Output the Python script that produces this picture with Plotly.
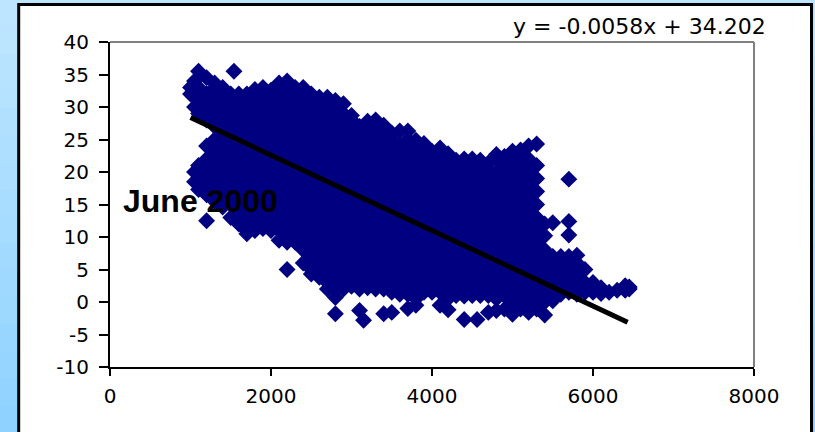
import plotly.graph_objects as go

# Scatter, one row per x position: x value, then the y values seen there
column_x = [
    1000, 1050, 1100, 1200, 1300, 1400, 1500, 1540, 1600, 1700, 1800, 1900,
    2000, 2100, 2200, 2300, 2400, 2500, 2600, 2700, 2800, 2900, 3000, 3100, 3150,
    3200, 3300, 3400, 3500, 3600, 3700, 3800, 3900, 4000, 4100, 4200, 4300, 4400,
    4500, 4560, 4600, 4700, 4800, 4900, 5000, 5100, 5200, 5300, 5400, 5500, 5600,
    5700, 5800, 5900, 6000, 6100, 6200, 6300, 6400, 6450,
]
column_y = [
    [33, 32],
    [34, 32, 30, 20, 18.5],
    [35.5, 33, 31, 29, 21, 19, 17.3],
    [34.5, 32, 30, 28, 24, 22, 20, 18, 16.5, 12.5],
    [33.7, 33, 31, 29, 27, 25, 23, 21, 19, 17, 15.5],
    [33, 32, 30, 28, 26, 24, 22, 20, 18, 16, 14.6],
    [32, 31, 29, 27, 25, 23, 21, 19, 17, 15, 13],
    [35.5],
    [32, 30, 28, 26, 24, 22, 20, 18, 16, 14, 12],
    [32, 31, 29, 27, 25, 23, 21, 19, 17, 15, 13, 11, 10.5],
    [32.7, 32, 30, 28, 26, 24, 22, 20, 18, 16, 14, 12, 11],
    [33, 31, 29, 27, 25, 23, 21, 19, 17, 15, 13, 11.3],
    [32.6, 32, 30, 28, 26, 24, 22, 20, 18, 16, 14, 12, 11],
    [33.7, 33, 31, 29, 27, 25, 23, 21, 19, 17, 15, 13, 11, 9.5],
    [34, 32, 30, 28, 26, 24, 22, 20, 18, 16, 14, 12, 10, 9.2, 5],
    [33, 31, 29, 27, 25, 23, 21, 19, 17, 15, 13, 11, 9.2],
    [33, 32, 30, 28, 26, 24, 22, 20, 18, 16, 14, 12, 10, 8, 6],
    [32, 31, 29, 27, 25, 23, 21, 19, 17, 15, 13, 11, 9, 7, 5, 4.3],
    [31.5, 30, 28, 26, 24, 22, 20, 18, 16, 14, 12, 10, 8, 6, 4, 3.8],
    [31.5, 31, 29, 27, 25, 23, 21, 19, 17, 15, 13, 11, 9, 7, 5, 3, 2],
    [31, 30, 28, 26, 24, 22, 20, 18, 16, 14, 12, 10, 8, 6, 4, 2, 0.7, -1.8],
    [30.5, 29, 27, 25, 23, 21, 19, 17, 15, 13, 11, 9, 7, 5, 3, 2],
    [28.7, 28, 26, 24, 22, 20, 18, 16, 14, 12, 10, 8, 6, 4, 2.4],
    [27, 25, 23, 21, 19, 17, 15, 13, 11, 9, 7, 5, 3, 2, -1.3],
    [-2.8],
    [27.8, 26, 24, 22, 20, 18, 16, 14, 12, 10, 8, 6, 4, 2.2],
    [28, 27, 25, 23, 21, 19, 17, 15, 13, 11, 9, 7, 5, 3, 2],
    [27.2, 26, 24, 22, 20, 18, 16, 14, 12, 10, 8, 6, 4, 2, -1.8],
    [26, 25, 23, 21, 19, 17, 15, 13, 11, 9, 7, 5, 3, 1.5, -1.6],
    [26.3, 24, 22, 20, 18, 16, 14, 12, 10, 8, 6, 4, 2, 1.2],
    [26.3, 25, 23, 21, 19, 17, 15, 13, 11, 9, 7, 5, 3, 1.2, -1],
    [24.9, 24, 22, 20, 18, 16, 14, 12, 10, 8, 6, 4, 2, 0.5, -0.5],
    [24.4, 23, 21, 19, 17, 15, 13, 11, 9, 7, 5, 3, 1.5],
    [23.2, 22, 20, 18, 16, 14, 12, 10, 8, 6, 4, 2, 1.5],
    [23.7, 23, 21, 19, 17, 15, 13, 11, 9, 7, 5, 3, 1.5, -0.5],
    [22.8, 22, 20, 18, 16, 14, 12, 10, 8, 6, 4, 2, 0.5, -1.2],
    [21.8, 21, 19, 17, 15, 13, 11, 9, 7, 5, 3, 1],
    [22, 20, 18, 16, 14, 12, 10, 8, 6, 4, 2, 0.9, -2.7],
    [22, 21, 19, 17, 15, 13, 11, 9, 7, 5, 3, 1],
    [-2.7],
    [21.8, 20, 18, 16, 14, 12, 10, 8, 6, 4, 2, 1],
    [21.4, 20.4, 19, 17, 15, 13, 11, 9, 7, 5, 3, 1, -1.6],
    [22.7, 22, 20, 18, 16, 14, 12, 10, 8, 6, 4, 2, 0.5, -1.3],
    [22.4, 21, 19, 17, 15, 13, 11, 9, 7, 5, 3, 1, -1.1],
    [23.2, 22, 20, 18, 16, 14, 12, 10, 8, 6, 4, 2, 0, -1.9],
    [23.4, 23, 21, 19, 17, 15, 13, 11, 9, 7, 5, 3, 1, -1.1],
    [24, 22, 20, 18, 16, 14, 12, 10, 8, 6, 4, 2, 0, -1.6],
    [24.3, 21, 19, 17, 15, 13, 11, 9, 7, 5, 3, 1, -1.1],
    [12, 10.2, 8, 6, 4, 2, 0, -2],
    [12.2, 7, 5, 3, 1, 0.2],
    [7, 6, 4, 2, 1.2],
    [18.9, 12.4, 10.3, 7, 5, 3, 1.5],
    [7.2, 6, 4, 2, 1.2],
    [5, 3, 1.5],
    [3, 2, 1.5],
    [2.2, 1.3],
    [1.5],
    [1.8],
    [2.5, 1.8],
    [2.3, 2],
]
trend_x = [1000, 6430]
trend_y = [28.4, -3.1]
x_ticks = [0, 2000, 4000, 6000, 8000]
x_labels = ["0", "2000", "4000", "6000", "8000"]
y_ticks = [-10, -5, 0, 5, 10, 15, 20, 25, 30, 35, 40]
y_labels = ["-10", "-5", "0", "5", "10", "15", "20", "25", "30", "35", "40"]
equation_text = "y = -0.0058x + 34.202"
period_text = "June 2000"

scatter_x = [x for x, ys in zip(column_x, column_y) for _ in ys]
scatter_y = [y for ys in column_y for y in ys]

L, R, T, B, W, H = 110, 61, 42, 65, 815, 432


def px(v):
    return (v - L) / (W - L - R)


def py(v):
    return (H - B - v) / (H - T - B)


fig = go.Figure()
fig.add_trace(go.Scatter(x=scatter_x, y=scatter_y, mode="markers",
                         marker=dict(symbol="diamond", size=13, color="#000080"),
                         hoverinfo="skip", cliponaxis=False))
fig.add_trace(go.Scatter(x=trend_x, y=trend_y, mode="lines",
                         line=dict(color="black", width=5), hoverinfo="skip"))

shapes = []
# light-blue page background, a vertical gradient built from bands
band_colors = ["#BDE5FF", "#BAE4FF", "#B7E3FF", "#B4E2FF", "#B1E0FF", "#AEDFFF", "#ABDEFF", "#A8DDFF",
               "#A5DCFF", "#A2DAFF", "#9FD9FF", "#9CD8FF", "#99D6FF", "#96D5FF", "#93D3FF", "#90D2FF"]
for i, c in enumerate(band_colors):
    shapes.append(dict(type="rect", xref="paper", yref="paper", layer="below",
                       x0=px(0), x1=px(W), y0=py(i * H / 16), y1=py((i + 1) * H / 16 + 1),
                       fillcolor=c, line=dict(width=0)))
shapes.append(dict(type="rect", xref="paper", yref="paper", layer="below",
                   x0=px(18.7), x1=px(811.5), y0=py(4.5), y1=py(H + 10),
                   fillcolor="white", line=dict(color="black", width=3)))
shapes.append(dict(type="line", xref="paper", yref="paper", x0=0, x1=1, y0=1, y1=1,
                   layer="below", line=dict(color="#808080", width=2)))
shapes.append(dict(type="line", xref="paper", yref="paper", x0=1, x1=1, y0=0, y1=1,
                   layer="below", line=dict(color="#808080", width=2)))

FONT = "DejaVu Sans"
fig.update_layout(
    width=W, height=H, margin=dict(l=L, r=R, t=T, b=B, pad=0),
    paper_bgcolor="white", plot_bgcolor="rgba(0,0,0,0)", showlegend=False,
    shapes=shapes,
    font=dict(family=FONT, size=20, color="black"),
    annotations=[
        dict(text=equation_text, xref="paper", yref="paper", x=px(511), y=py(27),
             xanchor="left", yanchor="middle", showarrow=False,
             font=dict(family=FONT, size=22, color="black")),
        dict(text=period_text, xref="paper", yref="paper", x=px(121), y=py(201),
             xanchor="left", yanchor="middle", showarrow=False,
             font=dict(family="Liberation Sans", size=32, color="black", weight="bold")),
    ],
    xaxis=dict(range=[0, 8000], tickvals=x_ticks, ticktext=x_labels, ticks="outside", ticklen=7,
               tickwidth=2, tickcolor="black", showline=True, linecolor="black", linewidth=2,
               showgrid=False, zeroline=False, ticklabelstandoff=3),
    yaxis=dict(range=[-10, 40], tickvals=y_ticks, ticktext=y_labels, ticks="outside", ticklen=9,
               tickwidth=2, tickcolor="black", showline=True, linecolor="black", linewidth=2,
               showgrid=False, zeroline=False, ticklabelstandoff=6),
)

fig.write_html("out.html", config={"displayModeBar": False},
               post_script="document.body.style.margin='0';document.body.style.overflow='hidden';")
